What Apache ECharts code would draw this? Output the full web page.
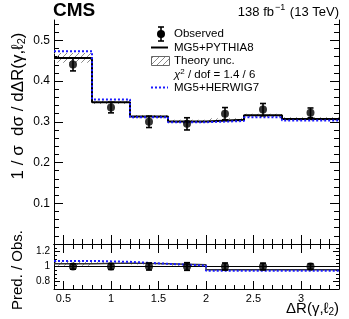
<!DOCTYPE html>
<html><head><meta charset="utf-8">
<script src="https://cdn.jsdelivr.net/npm/echarts@6/dist/echarts.min.js"></script>
<style>html,body{margin:0;padding:0;background:#fff}#c{width:349px;height:319px}</style>
</head><body><div id="c"></div>
<script>
const binEdges = [0.4, 0.8, 1.2, 1.6, 2.0, 2.4, 2.8, 3.4];
const obsX = [0.6, 1.0, 1.4, 1.8, 2.2, 2.6, 3.1];
const obsY = [0.441, 0.335, 0.300, 0.295, 0.320, 0.330, 0.322];
const obsErr = [0.016, 0.013, 0.014, 0.015, 0.015, 0.015, 0.012];
const pythia = [0.457, 0.348, 0.313, 0.301, 0.305, 0.316, 0.307];
const pythiaUnc = [0.012, 0.004, 0.004, 0.004, 0.004, 0.004, 0.004];
const herwig = [0.473, 0.355, 0.311, 0.299, 0.302, 0.311, 0.303];
const ratioObs = [1, 1, 1, 1, 1, 1, 1];
const ratioObsErr = [0.036, 0.039, 0.047, 0.051, 0.047, 0.045, 0.037];
const ratioPythia = [1.038, 1.045, 1.038, 1.022, 0.956, 0.956, 0.956];
const ratioPythiaUnc = [0.028, 0.012, 0.012, 0.012, 0.012, 0.012, 0.012];
const ratioHerwig = [1.075, 1.062, 1.036, 1.012, 0.943, 0.943, 0.943];
const xMajor = [0.5, 1, 1.5, 2, 2.5, 3];
const xMinor = [0.4, 0.6, 0.7, 0.8, 0.9, 1.1, 1.2, 1.3, 1.4, 1.6, 1.7, 1.8, 1.9, 2.1, 2.2, 2.3, 2.4, 2.6, 2.7, 2.8, 2.9, 3.1, 3.2, 3.3, 3.4];
const yMajor = [0, 0.1, 0.2, 0.3, 0.4, 0.5];
const yMajorLabels = [0.1, 0.2, 0.3, 0.4, 0.5];
const yMinor = [0.02,0.04,0.06,0.08,0.12,0.14,0.16,0.18,0.22,0.24,0.26,0.28,0.32,0.34,0.36,0.38,0.42,0.44,0.46,0.48,0.52,0.54];
const rMajor = [0.8, 1, 1.2];
const rMinor = [0.75, 0.85, 0.9, 0.95, 1.05, 1.1, 1.15, 1.25];

const FONT = "'Liberation Sans', Arial, Helvetica, sans-serif";
const BLUE = '#1a1aff';

function stepData(vals){
  const d = vals.map((v,i)=>[binEdges[i], v]);
  d.push([binEdges[binEdges.length-1], vals[vals.length-1]]);
  return d;
}
function bandData(vals, unc){
  return vals.map((v,i)=>[binEdges[i], binEdges[i+1], v-unc[i], v+unc[i]]);
}
function errData(xs, ys, es){ return xs.map((x,i)=>[x, ys[i], es[i]]); }

const hatch = document.createElement('canvas');
hatch.width = 6; hatch.height = 6;
(function(){
  const g = hatch.getContext('2d');
  g.strokeStyle = '#8a8a8a'; g.lineWidth = 1;
  g.beginPath();
  g.moveTo(0,6); g.lineTo(6,0);
  g.moveTo(-1,1); g.lineTo(1,-1);
  g.moveTo(5,7); g.lineTo(7,5);
  g.stroke();
})();
const hatchPattern = {image: hatch, repeat: 'repeat'};

function bandRender(params, api){
  const p0 = api.coord([api.value(0), api.value(3)]);
  const p1 = api.coord([api.value(1), api.value(2)]);
  return {type:'rect', shape:{x:p0[0], y:p0[1], width:p1[0]-p0[0], height:p1[1]-p0[1]},
    style:{fill: hatchPattern}};
}
function errRender(params, api){
  const x = api.value(0), y = api.value(1), e = api.value(2);
  const t = api.coord([x, y+e]), b = api.coord([x, y-e]);
  const w = 3;
  const st = {stroke:'#000', lineWidth:1.6};
  return {type:'group', children:[
    {type:'line', shape:{x1:t[0], y1:t[1], x2:b[0], y2:b[1]}, style:st},
    {type:'line', shape:{x1:t[0]-w, y1:t[1], x2:t[0]+w, y2:t[1]}, style:st},
    {type:'line', shape:{x1:b[0]-w, y1:b[1], x2:b[0]+w, y2:b[1]}, style:st}
  ]};
}

const axLine = {show:true, lineStyle:{color:'#000', width:1}};
function xAx(grid, pos, vals, len, labels, line){
  return {type:'value', gridIndex:grid, position:pos, min:0.4, max:3.4,
    axisLine: line ? axLine : {show:false},
    axisTick:{show:true, inside:true, length:len, customValues: vals, lineStyle:{color:'#000', width:1}},
    axisLabel: labels ? {show:true, customValues: vals, fontSize:11, fontFamily:FONT, color:'#000', margin:4} : {show:false},
    splitLine:{show:false}};
}
function yAx(grid, pos, min, max, vals, len, labelVals, fs, line){
  return {type:'value', gridIndex:grid, position:pos, min:min, max:max,
    axisLine: line ? axLine : {show:false},
    axisTick:{show:true, inside:true, length:len, customValues: vals, lineStyle:{color:'#000', width:1}},
    axisLabel: labelVals ? {show:true, customValues: labelVals, fontSize:fs, fontFamily:FONT, color:'#000', margin:4} : {show:false},
    splitLine:{show:false}};
}

const option = {
  animation:false,
  backgroundColor:'#fff',
  grid:[
    {left:54, top:20, width:285, height:224, show:false},
    {left:54, top:244, width:285, height:45, show:false}
  ],
  xAxis:[
    xAx(0,'bottom',xMajor,9,false,true),
    xAx(0,'bottom',xMinor,5,false,false),
    xAx(0,'top',xMajor,9,false,true),
    xAx(0,'top',xMinor,5,false,false),
    xAx(1,'bottom',xMajor,8,true,true),
    xAx(1,'bottom',xMinor,4,false,false),
    xAx(1,'top',[],0,false,true)
  ],
  yAxis:[
    yAx(0,'left',0,0.55,yMajor,9,yMajorLabels,12,true),
    yAx(0,'left',0,0.55,yMinor,5,null,12,false),
    yAx(0,'right',0,0.55,yMajor,9,null,12,true),
    yAx(0,'right',0,0.55,yMinor,5,null,12,false),
    yAx(1,'left',0.7,1.3,rMajor,6,rMajor,10,true),
    yAx(1,'left',0.7,1.3,rMinor,3,null,10,false),
    yAx(1,'right',0.7,1.3,rMajor,6,null,10,true),
    yAx(1,'right',0.7,1.3,rMinor,3,null,10,false)
  ],
  series:[
    {type:'custom', name:'Theory unc.', xAxisIndex:0, yAxisIndex:0, renderItem:bandRender, data:bandData(pythia, pythiaUnc), z:1},
    {type:'line', name:'MG5+PYTHIA8', xAxisIndex:0, yAxisIndex:0, step:'end', symbol:'none', data:stepData(pythia), lineStyle:{color:'#000', width:2}, z:3},
    {type:'line', name:'MG5+HERWIG7', xAxisIndex:0, yAxisIndex:0, step:'end', symbol:'none', data:stepData(herwig), lineStyle:{color:BLUE, width:2, type:[2,2]}, z:4},
    {type:'custom', name:'err', xAxisIndex:0, yAxisIndex:0, renderItem:errRender, data:errData(obsX, obsY, obsErr), z:5},
    {type:'scatter', name:'Observed', xAxisIndex:0, yAxisIndex:0, symbol:'circle', symbolSize:8, itemStyle:{color:'#000'}, data:obsX.map((x,i)=>[x, obsY[i]]), z:6},

    {type:'line', name:'unity', xAxisIndex:4, yAxisIndex:4, symbol:'none', data:[[0.4,1],[3.4,1]], lineStyle:{color:'#000', width:1}, z:2},
    {type:'custom', name:'rband', xAxisIndex:4, yAxisIndex:4, renderItem:bandRender, data:bandData(ratioPythia, ratioPythiaUnc), z:1},
    {type:'line', name:'rpythia', xAxisIndex:4, yAxisIndex:4, step:'end', symbol:'none', data:stepData(ratioPythia), lineStyle:{color:'#333', width:1.5}, z:3},
    {type:'line', name:'rherwig', xAxisIndex:4, yAxisIndex:4, step:'end', symbol:'none', data:stepData(ratioHerwig), lineStyle:{color:BLUE, width:2, type:[2,2]}, z:4},
    {type:'custom', name:'rerr', xAxisIndex:4, yAxisIndex:4, renderItem:errRender, data:errData(obsX, ratioObs, ratioObsErr), z:5},
    {type:'scatter', name:'robs', xAxisIndex:4, yAxisIndex:4, symbol:'circle', symbolSize:8, itemStyle:{color:'#000'}, data:obsX.map((x,i)=>[x, ratioObs[i]]), z:6}
  ],
  graphic:[
    {type:'text', left:53, top:1, style:{text:'CMS', font:"bold 19px "+FONT, fill:'#000'}},
    {type:'text', x:339, y:12, style:{text:'{n|138 fb}{s|−1}{n| (13 TeV)}', align:'right', verticalAlign:'middle',
      rich:{n:{font:'13px '+FONT, fill:'#000'}, s:{font:'9px '+FONT, fill:'#000', padding:[0,1,8,1]}}}},
    {type:'text', x:18, y:106, rotation:Math.PI/2, style:{text:'{n|1 / σ  dσ / dΔR(γ,ℓ}{s|2}{n|)}', align:'center', verticalAlign:'middle',
      rich:{n:{font:'17px '+FONT, fill:'#000'}, s:{font:'11px '+FONT, fill:'#000', padding:[7,0,0,0]}}}},
    {type:'text', x:18, y:270, rotation:Math.PI/2, style:{text:'Pred. / Obs.', font:'15px '+FONT, fill:'#000', align:'center', verticalAlign:'middle'}},
    {type:'text', x:339, y:309, style:{text:'{n|ΔR(γ,ℓ}{s|2}{n|)}', align:'right', verticalAlign:'middle',
      rich:{n:{font:'15px '+FONT, fill:'#000'}, s:{font:'10px '+FONT, fill:'#000', padding:[6,0,0,0]}}}},
    // legend
    {type:'line', shape:{x1:161, y1:27, x2:161, y2:41}, style:{stroke:'#000', lineWidth:1.6}},
    {type:'line', shape:{x1:158, y1:27, x2:164, y2:27}, style:{stroke:'#000', lineWidth:1.6}},
    {type:'line', shape:{x1:158, y1:41, x2:164, y2:41}, style:{stroke:'#000', lineWidth:1.6}},
    {type:'circle', shape:{cx:161, cy:34, r:4}, style:{fill:'#000'}},
    {type:'text', x:174, y:34, style:{text:'Observed', font:'11.5px '+FONT, fill:'#000', verticalAlign:'middle'}},
    {type:'line', shape:{x1:151, y1:47.5, x2:168, y2:47.5}, style:{stroke:'#000', lineWidth:2}},
    {type:'text', x:174, y:47.5, style:{text:'MG5+PYTHIA8', font:'11.5px '+FONT, fill:'#000', verticalAlign:'middle'}},
    {type:'rect', shape:{x:151.5, y:56.5, width:18, height:9}, style:{fill:hatchPattern, stroke:'#666', lineWidth:1}},
    {type:'text', x:174, y:61, style:{text:'Theory unc.', font:'11.5px '+FONT, fill:'#000', verticalAlign:'middle'}},
    {type:'text', x:174, y:74.5, style:{text:'{i|χ}{s|2}{n| / dof = 1.4 / 6}', verticalAlign:'middle',
      rich:{i:{font:'italic 11.5px '+FONT, fill:'#000'}, n:{font:'11.5px '+FONT, fill:'#000'}, s:{font:'8px '+FONT, fill:'#000', padding:[0,0,6,0]}}}},
    {type:'line', shape:{x1:151, y1:87.5, x2:168, y2:87.5}, style:{stroke:BLUE, lineWidth:2, lineDash:[2,2]}},
    {type:'text', x:174, y:87.5, style:{text:'MG5+HERWIG7', font:'11.5px '+FONT, fill:'#000', verticalAlign:'middle'}}
  ]
};
const chart = echarts.init(document.getElementById('c'), null, {renderer:'canvas'});
chart.setOption(option);
</script>
</body></html>
